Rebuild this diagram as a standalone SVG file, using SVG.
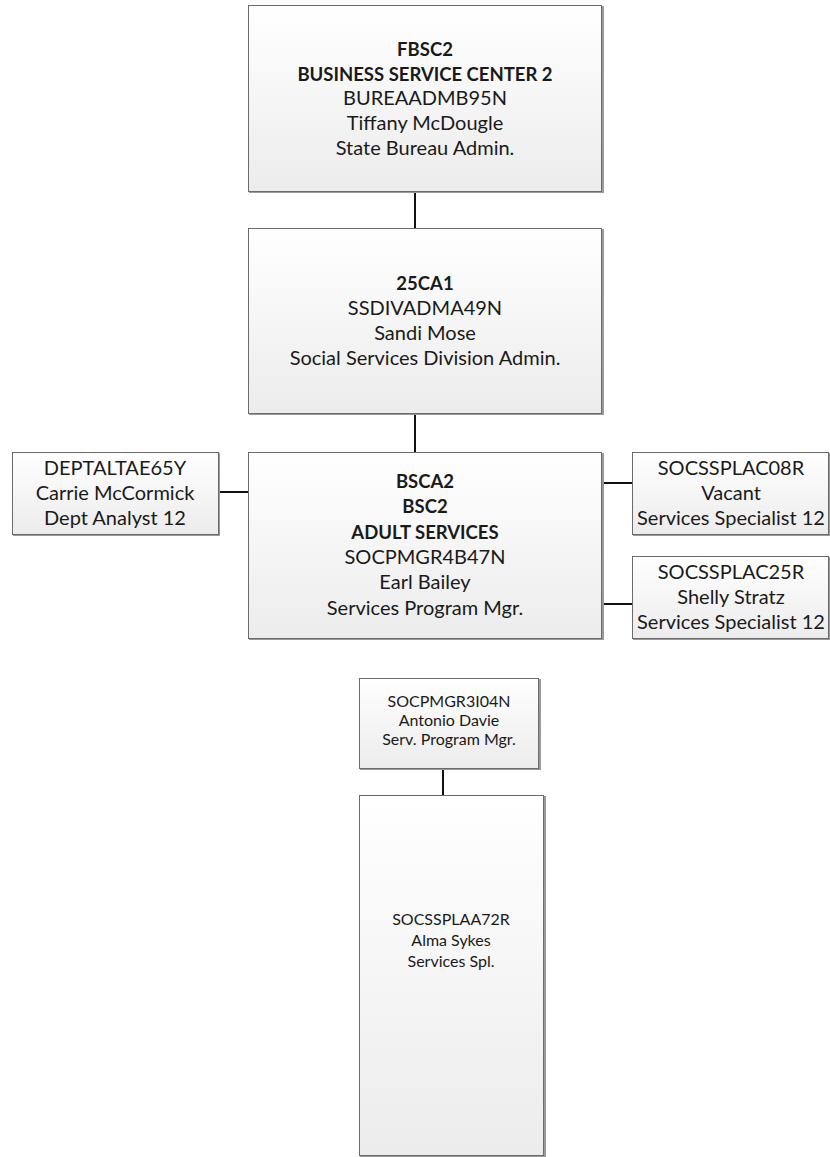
<svg xmlns="http://www.w3.org/2000/svg" width="830" height="1157" viewBox="0 0 830 1157">
<style>
.box{fill:url(#g);stroke:#6b6b6b;stroke-width:1}
.sh{fill:none;stroke:#9a9a9a;stroke-width:2}
.t{font-family:Lato,"Open Sans","Liberation Sans",sans-serif;font-size:20px;fill:#1a1a1a;text-anchor:middle}
.s{font-size:16px}
.b{font-weight:bold;font-size:18.5px}
.c{stroke:#111;stroke-width:2;fill:none}
</style>
<defs>
<linearGradient id="g" x1="0" y1="0" x2="0" y2="1">
<stop offset="0" stop-color="#ffffff"/>
<stop offset="1" stop-color="#ececec"/>
</linearGradient>
</defs>
<rect width="830" height="1157" fill="#fff"/>
<g id="connectors">
<path class="c" d="M415 192V228"/>
<path class="c" d="M415 414V452"/>
<path class="c" d="M218 492H248"/>
<path class="c" d="M602 483H632"/>
<path class="c" d="M602 604H632"/>
<path class="c" d="M443 768V795"/>
</g>
<g id="n1">
<path class="sh" d="M603 6V192H249"/>
<rect class="box" x="248.5" y="5.5" width="353" height="186"/>
<text class="t b" x="425" y="56">FBSC2</text>
<text class="t b" x="425" y="81">BUSINESS SERVICE CENTER 2</text>
<text class="t" x="425" y="105">BUREAADMB95N</text>
<text class="t" x="425" y="130">Tiffany McDougle</text>
<text class="t" x="425" y="155">State Bureau Admin.</text>
</g>
<g id="n2">
<path class="sh" d="M603 229V414H249"/>
<rect class="box" x="248.5" y="228.5" width="353" height="185"/>
<text class="t b" x="425" y="290">25CA1</text>
<text class="t" x="425" y="315">SSDIVADMA49N</text>
<text class="t" x="425" y="340">Sandi Mose</text>
<text class="t" x="425" y="365">Social Services Division Admin.</text>
</g>
<g id="n3">
<path class="sh" d="M603 453V639H249"/>
<rect class="box" x="248.5" y="452.5" width="353" height="186"/>
<text class="t b" x="425" y="488">BSCA2</text>
<text class="t b" x="425" y="513">BSC2</text>
<text class="t b" x="425" y="539">ADULT SERVICES</text>
<text class="t" x="425" y="564">SOCPMGR4B47N</text>
<text class="t" x="425" y="589">Earl Bailey</text>
<text class="t" x="425" y="615">Services Program Mgr.</text>
</g>
<g id="n4">
<path class="sh" d="M219 453V535H13"/>
<rect class="box" x="12.5" y="452.5" width="206" height="82"/>
<text class="t" x="115" y="475">DEPTALTAE65Y</text>
<text class="t" x="115" y="500">Carrie McCormick</text>
<text class="t" x="115" y="525">Dept Analyst 12</text>
</g>
<g id="n5">
<path class="sh" d="M830 453V535H633"/>
<rect class="box" x="632.5" y="452.5" width="196" height="82"/>
<text class="t" x="731" y="475">SOCSSPLAC08R</text>
<text class="t" x="731" y="500">Vacant</text>
<text class="t" x="731" y="525">Services Specialist 12</text>
</g>
<g id="n6">
<path class="sh" d="M830 557V639H633"/>
<rect class="box" x="632.5" y="556.5" width="196" height="82"/>
<text class="t" x="731" y="579">SOCSSPLAC25R</text>
<text class="t" x="731" y="604">Shelly Stratz</text>
<text class="t" x="731" y="629">Services Specialist 12</text>
</g>
<g id="n7">
<path class="sh" d="M540 679V769H360"/>
<rect class="box" x="359.5" y="678.5" width="179" height="90"/>
<text class="t s" x="449" y="707">SOCPMGR3I04N</text>
<text class="t s" x="449" y="726">Antonio Davie</text>
<text class="t s" x="449" y="745">Serv. Program Mgr.</text>
</g>
<g id="n8">
<path class="sh" d="M545 796V1156H360"/>
<rect class="box" x="359.5" y="795.5" width="184" height="360"/>
<text class="t s" x="451" y="925">SOCSSPLAA72R</text>
<text class="t s" x="451" y="946">Alma Sykes</text>
<text class="t s" x="451" y="967">Services Spl.</text>
</g>
</svg>
